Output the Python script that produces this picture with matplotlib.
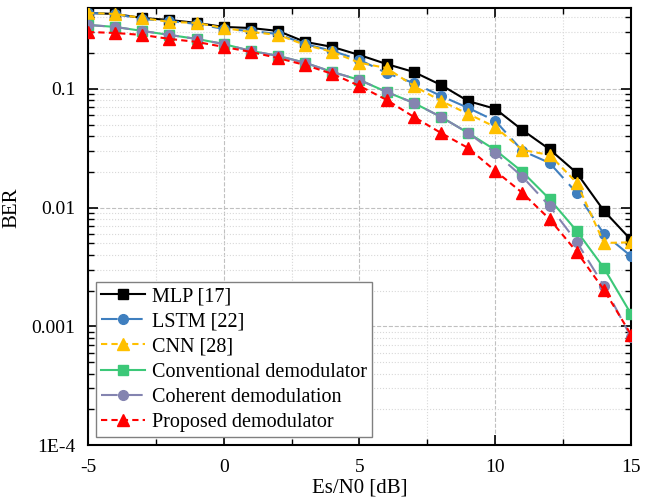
import numpy as np
import matplotlib
matplotlib.use("Agg")
import matplotlib.pyplot as plt
from matplotlib.ticker import NullFormatter, LogLocator, MultipleLocator

plt.rcParams['font.family'] = ['Liberation Serif', 'DejaVu Serif']
plt.rcParams['axes.unicode_minus'] = False

snr = list(range(-5, 16))

mlp = [0.437, 0.428, 0.396, 0.381, 0.360, 0.333, 0.326, 0.308, 0.249, 0.226, 0.193,
       0.162, 0.139, 0.108, 0.079, 0.068, 0.045, 0.031, 0.0196, 0.0094, 0.00535]
lstm = [0.437, 0.428, 0.388, 0.373, 0.353, 0.320, 0.308, 0.290, 0.239, 0.209, 0.176,
        0.136, 0.112, 0.0873, 0.0692, 0.0538, 0.0301, 0.0238, 0.0133, 0.0060, 0.0039]
cnn = [0.437, 0.428, 0.396, 0.367, 0.360, 0.326, 0.302, 0.285, 0.235, 0.205, 0.166,
       0.150, 0.106, 0.0792, 0.0616, 0.0478, 0.0306, 0.0278, 0.0162, 0.00504, 0.0051]
conventional = [0.346, 0.333, 0.308, 0.285, 0.264, 0.239, 0.209, 0.190, 0.166, 0.139, 0.119,
                0.0943, 0.0762, 0.0581, 0.0426, 0.0306, 0.0200, 0.0118, 0.00636, 0.00310, 0.00127]
coherent = [0.346, 0.333, 0.308, 0.285, 0.264, 0.239, 0.209, 0.190, 0.166, 0.139, 0.119,
            0.0943, 0.0762, 0.0581, 0.0426, 0.0289, 0.0182, 0.0103, 0.00514, 0.00219, 0.00081]
proposed = [0.302, 0.296, 0.285, 0.264, 0.249, 0.226, 0.205, 0.182, 0.159, 0.134, 0.106,
            0.0808, 0.0581, 0.0426, 0.0318, 0.0204, 0.0133, 0.0080, 0.00424, 0.00203, 0.00085]

fig = plt.figure(figsize=(6.56, 5.04), dpi=100)
ax = fig.add_axes([0.134, 0.117, 0.828, 0.867])

ms = 7
ax.plot(snr, mlp, '-', color='black', marker='s', ms=ms, lw=1.5, label='MLP [17]', zorder=3)
ax.plot(snr, lstm, color='#3F7FBF', marker='o', ms=ms, lw=1.5, dashes=(8, 4), label='LSTM [22]', zorder=3)
ax.plot(snr, cnn, color='#FFC000', marker='^', ms=ms + 1, lw=1.5, dashes=(3, 2), label='CNN [28]', zorder=3)
ax.plot(snr, conventional, '-', color='#3CC878', marker='s', ms=ms, lw=1.5, label='Conventional demodulator', zorder=3)
ax.plot(snr, coherent, color='#8484B0', marker='o', ms=ms, lw=1.5, dashes=(8, 4), label='Coherent demodulation', zorder=3)
ax.plot(snr, proposed, color='#FF0000', marker='^', ms=ms + 1, lw=1.5, dashes=(3, 2), label='Proposed demodulator', zorder=3)

ax.set_yscale('log')
ax.set_xlim(-5, 15)
ax.set_ylim(1e-4, 0.48)
ax.set_yticks([1e-4, 1e-3, 1e-2, 1e-1])
ax.set_yticklabels(['1E-4', '0.001', '0.01', '0.1'])
ax.yaxis.set_minor_locator(LogLocator(base=10, subs=np.arange(2, 10)))
ax.yaxis.set_minor_formatter(NullFormatter())
ax.xaxis.set_major_locator(MultipleLocator(5))
ax.xaxis.set_minor_locator(MultipleLocator(2.5))

ax.tick_params(which='both', direction='in', top=True, right=True, labelsize=14)
ax.tick_params(which='major', length=7, width=1.2)
ax.tick_params(which='minor', length=4, width=1)
ax.tick_params(axis='y', which='major', pad=9)
ax.tick_params(axis='x', which='major', pad=10)
for s in ax.spines.values():
    s.set_linewidth(1.5)

ax.grid(True, which='major', linestyle='--', color='#c0c0c0', lw=0.8)
ax.grid(True, which='minor', linestyle=':', color='#d8d8d8', lw=0.8)
ax.set_axisbelow(True)

ax.set_xlabel('Es/N0 [dB]', fontsize=15)
ax.set_ylabel('BER', fontsize=15)
ax.xaxis.set_label_coords(0.5, -0.076)
ax.yaxis.set_label_coords(-0.122, 0.542)

leg = ax.legend(loc='lower left', fontsize=14.5, fancybox=False, edgecolor='#808080',
                handlelength=2.2, borderaxespad=0.4, labelspacing=0.3, handletextpad=0.35,
                borderpad=0.25)
leg.get_frame().set_linewidth(1.0)
leg.get_frame().set_alpha(1)

fig.savefig('out.png', dpi=100)
